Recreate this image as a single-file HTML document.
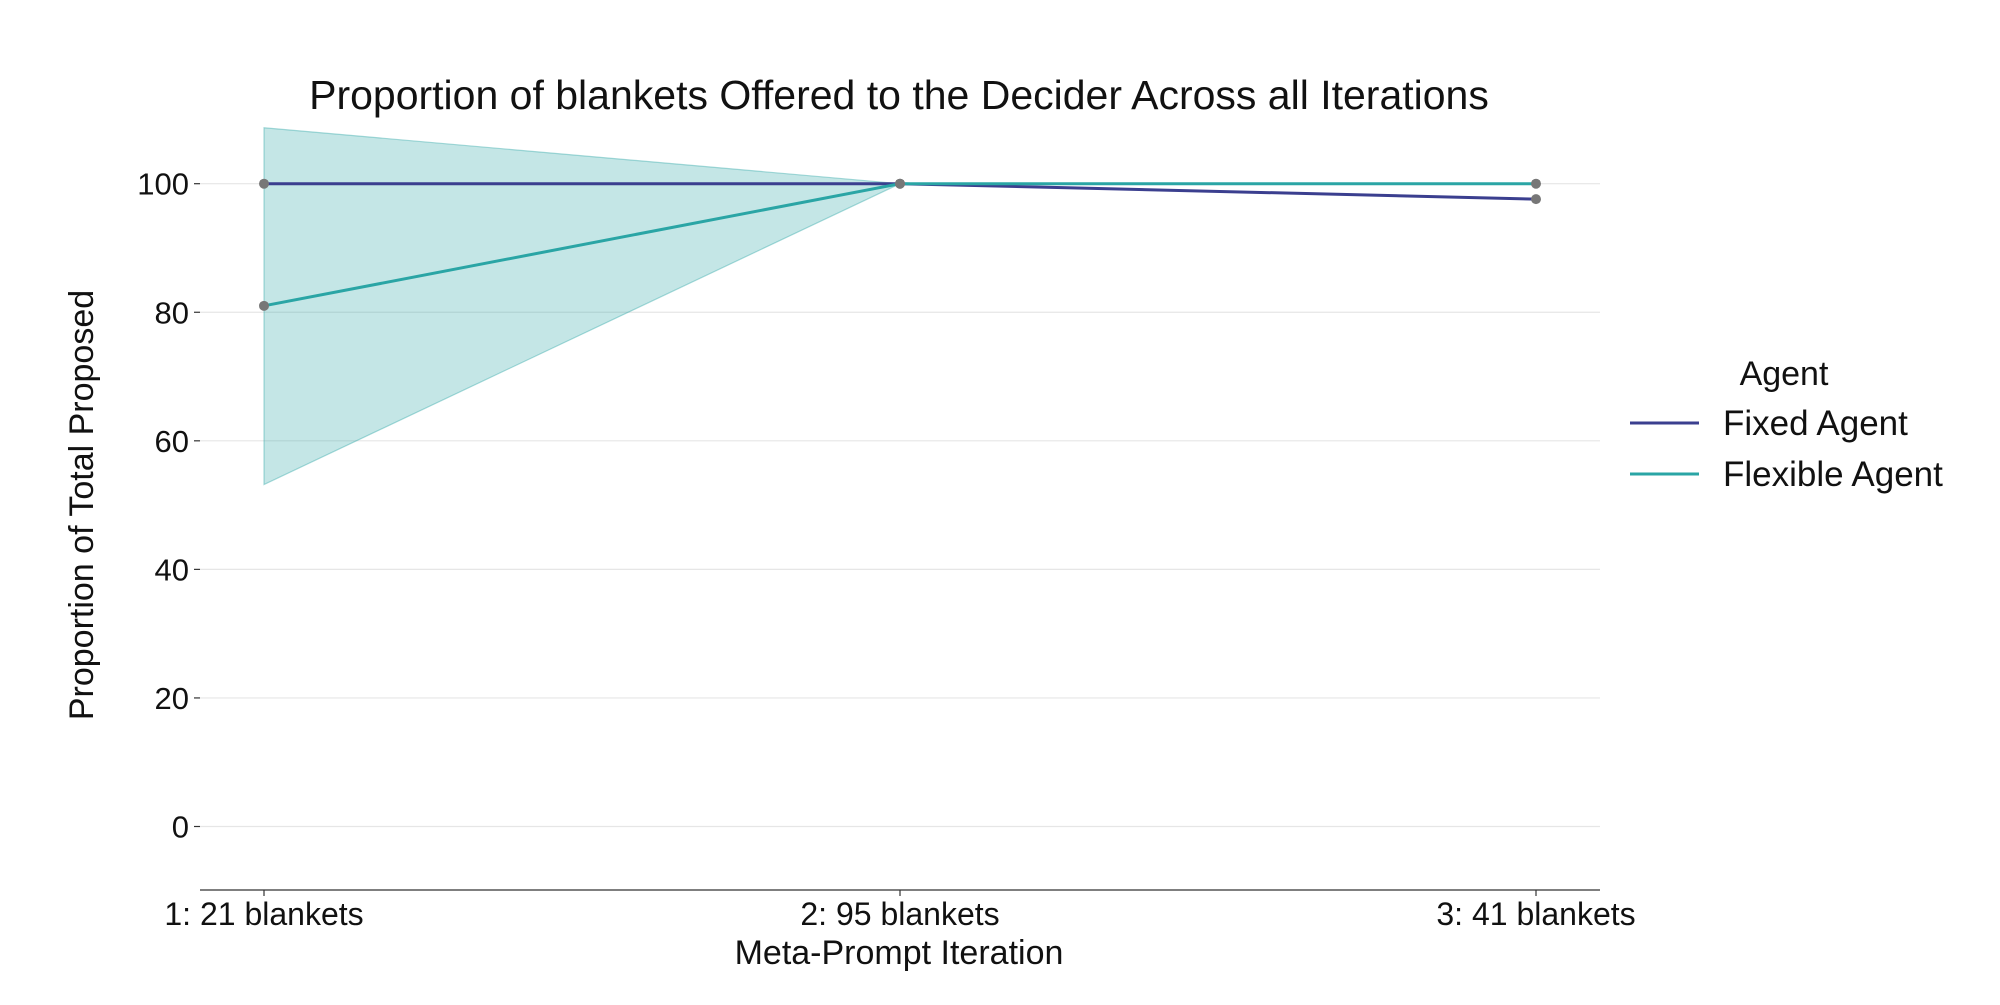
<!DOCTYPE html>
<html><head><meta charset="utf-8"><style>
html,body{margin:0;padding:0;background:#fff;}
svg text{font-family:"Liberation Sans",sans-serif;fill:#111;}
</style></head><body>
<svg width="2000" height="1000" xmlns="http://www.w3.org/2000/svg">
<text x="899" y="109" font-size="41" text-anchor="middle">Proportion of blankets Offered to the Decider Across all Iterations</text>
<g id="grid"></g>
<g id="yticks"></g>
<g id="xticks"></g>
<line x1="200" y1="890" x2="1600" y2="890" stroke="#333" stroke-width="1.3"/>
<text transform="translate(93,505) rotate(-90)" font-size="34" text-anchor="middle">Proportion of Total Proposed</text>
<text x="899" y="964" font-size="34" text-anchor="middle">Meta-Prompt Iteration</text>
<g id="plot"></g>
<g>
<text x="1784" y="385" font-size="34" text-anchor="middle">Agent</text>
<line x1="1630" y1="423" x2="1699" y2="423" stroke="#3b3f8f" stroke-width="3"/>
<text x="1723" y="435" font-size="35">Fixed Agent</text>
<line x1="1630" y1="474" x2="1699" y2="474" stroke="#2aa5a5" stroke-width="3"/>
<text x="1723" y="486" font-size="35">Flexible Agent</text>
</g>
</svg>
<script>
const categories=["1: 21 blankets","2: 95 blankets","3: 41 blankets"];
const fixedVals=[100,100,97.6];
const flexVals=[81,100,100];
const flexUpper=[108.7,100,100];
const flexLower=[53.2,100,100];
const yTicks=[0,20,40,60,80,100];
const NS="http://www.w3.org/2000/svg";
const xs=i=>264+i*636;
const ys=v=>826.5-(v/100)*642.8;
function mk(parent,tag,attrs){const e=document.createElementNS(NS,tag);for(const k in attrs)e.setAttribute(k,attrs[k]);document.getElementById(parent).appendChild(e);return e;}
yTicks.forEach(t=>{
 const g=mk('grid','line',{x1:200,x2:1600,y1:ys(t),y2:ys(t),stroke:'#e6e6e6','stroke-width':1.2});
 
 
 const tk=mk('yticks','line',{x1:194,x2:200,y1:ys(t),y2:ys(t),stroke:'#333','stroke-width':1.2});
 
 
 const tx=mk('yticks','text',{x:189,y:ys(t)+11,'font-size':31,'text-anchor':'end'});
 tx.textContent=t;
 
 
});
categories.forEach((c,i)=>{
 const tk=mk('xticks','line',{x1:xs(i),x2:xs(i),y1:890,y2:896,stroke:'#333','stroke-width':1.2});
 
 
 const tx=mk('xticks','text',{x:xs(i),y:925,'font-size':32,'text-anchor':'middle'});
 tx.textContent=c;
 
 
});
let pts=flexUpper.map((v,i)=>xs(i)+','+ys(v)).concat(flexLower.map((v,i)=>xs(i)+','+ys(v)).reverse());
const band=mk('plot','polygon',{points:pts.join(' '),fill:'#2aa5a5','fill-opacity':0.28,stroke:'#2aa5a5','stroke-opacity':0.4,'stroke-width':1.2});


[[fixedVals,'#3b3f8f','fixed'],[flexVals,'#2aa5a5','flexible']].forEach(([vals,col,n])=>{
 const l=mk('plot','polyline',{points:vals.map((v,i)=>xs(i)+','+ys(v)).join(' '),fill:'none',stroke:col,'stroke-width':3});
 
 
});
[[fixedVals,'fixed'],[flexVals,'flexible']].forEach(([vals,n])=>{
 vals.forEach((v,i)=>{
  const c=mk('plot','circle',{cx:xs(i),cy:ys(v),r:5,fill:'#777'});
  
  
 });
});
</script>
</body></html>
